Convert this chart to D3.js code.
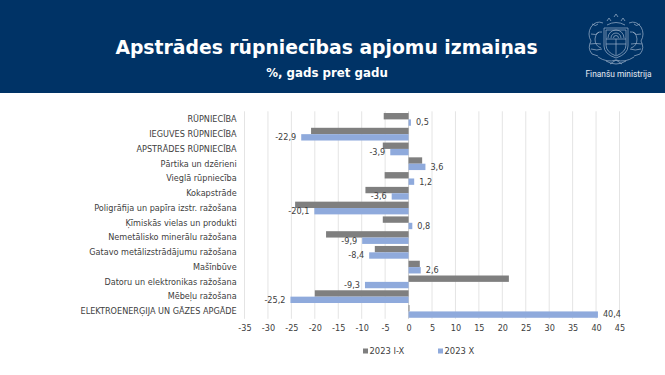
<!DOCTYPE html>
<html lang="lv">
<head>
<meta charset="utf-8">
<title>Apstrādes rūpniecības apjomu izmaiņas</title>
<script src="https://cdn.jsdelivr.net/npm/d3@7.9.0/dist/d3.min.js"></script>
<style>
  html, body { margin: 0; padding: 0; background: #fff; }
  svg { display: block; font-family: "DejaVu Sans", sans-serif; }
</style>
</head>
<body>
<svg id="chart" width="665" height="375"></svg>
<script>
const categories = [
  "RŪPNIECĪBA",
  "IEGUVES RŪPNIECĪBA",
  "APSTRĀDES RŪPNIECĪBA",
  "Pārtika un dzērieni",
  "Vieglā rūpniecība",
  "Kokapstrāde",
  "Poligrāfija un papīra izstr. ražošana",
  "Ķīmiskās vielas un produkti",
  "Nemetālisko minerālu ražošana",
  "Gatavo metālizstrādājumu ražošana",
  "Mašīnbūve ",
  "Datoru un elektronikas ražošana",
  "Mēbeļu ražošana",
  "ELEKTROENERĢIJA UN GĀZES APGĀDE",
];
const valuesYtd = [-5.3, -20.8, -5.5, 2.9, -5.1, -9.2, -24.2, -5.5, -17.6, -7.2, 2.4, 21.4, -20, 0.2];
const valuesOct = [0.5, -22.9, -3.9, 3.6, 1.2, -3.6, -20.1, 0.8, -9.9, -8.4, 2.6, -9.3, -25.2, 40.4];
const xTicks = [-35, -30, -25, -20, -15, -10, -5, 0, 5, 10, 15, 20, 25, 30, 35, 40, 45];
const seriesNames = ["2023 I-X", "2023 X"];

const grey = "#7f7f7f";
const blue = "#8faadc";
const navy = "#003366";
const textColor = "#404040";

const svg = d3.select("#chart");

// header band
svg.append("rect").attr("width", 665).attr("height", 93).attr("fill", navy);
svg.append("text").attr("x", 326.5).attr("y", 54).attr("text-anchor", "middle")
  .attr("fill", "#fff").attr("font-size", 18.8).attr("font-weight", "bold")
  .text("Apstrādes rūpniecības apjomu izmaiņas");
svg.append("text").attr("x", 327).attr("y", 77).attr("text-anchor", "middle")
  .attr("fill", "#fff").attr("font-size", 11.8).attr("font-weight", "bold")
  .text("%, gads pret gadu");

// rough line version of the coat of arms
const logo = svg.append("g").attr("transform", "translate(616,40)")
  .attr("fill", "none").attr("stroke", "#9fb3cc").attr("stroke-width", 0.7);
logo.append("path").attr("d", "M-12,-12 H12 V6 Q12,14 0,18 Q-12,14 -12,6 Z M-10,-10 H10 V5 Q10,12 0,16 Q-10,12 -10,5 Z");
logo.append("path").attr("d", "M-8,-2 A8,8 0 0 1 8,-2 M-5,-2 A5,5 0 0 1 5,-2 M-2.5,-2 A2.5,2.5 0 0 1 2.5,-2 M-10,-1 H10 M-10,4 H10 M0,-1 V15");
// lion on the left, griffin on the right
logo.append("path").attr("d", "M-13,-17 Q-20,-20 -25,-13 Q-29,-6 -25,1 Q-29,8 -24,14 L-18,16 M-14,-8 Q-20,-9 -21,-1 Q-21,6 -15,8 M-24,-16 Q-20,-13 -18,-16 M-25,-6 Q-20,-4 -17,-8 M-26,4 Q-20,3 -15,4 M-25,9 Q-19,11 -14,9");
logo.append("path").attr("d", "M13,-17 Q20,-20 25,-13 Q29,-6 25,1 Q29,8 24,14 L18,16 M14,-8 Q20,-9 21,-1 Q21,6 15,8 M24,-16 Q20,-13 18,-16 M25,-6 Q20,-4 17,-8 M26,4 Q20,3 15,4 M25,9 Q19,11 14,9");
// three stars over the shield
logo.append("path").attr("d", "M-9,-15 Q0,-20 9,-15 M-9,-19 l2,-3 l2,3 M-2,-23 l2,-3 l2,3 M5,-19 l2,-3 l2,3");
// oak branches below
logo.append("path").attr("d", "M-18,17 Q-9,23 0,20 Q9,23 18,17 M-10,21 Q0,27 10,21 M-6,24 L0,20 L6,24");
svg.append("text").attr("x", 618.5).attr("y", 77).attr("text-anchor", "middle")
  .attr("fill", "#e6ecf3").attr("font-size", 8.4).attr("font-family", "Roboto, sans-serif")
  .text("Finanšu ministrija");

// chart
const x = d3.scaleLinear().domain([-35, 45]).range([244.5, 619.5]);
const y = d3.scaleBand().domain(categories).range([112, 318.8]);
const series = d3.scaleBand().domain(seriesNames).range([0, y.bandwidth()]).paddingInner(0).paddingOuter(0.16);

svg.append("g").selectAll("line").data(xTicks).join("line")
  .attr("x1", (d) => x(d)).attr("x2", (d) => x(d))
  .attr("y1", 111.3).attr("y2", 318.8)
  .attr("stroke", (d) => (d === 0 ? "#cfcfcf" : "#e4e4e4")).attr("stroke-width", 1);

const xAxis = d3.axisBottom(x).tickValues(xTicks).tickSize(0).tickPadding(0).tickFormat((d) => String(d));
const xg = svg.append("g").attr("transform", "translate(0,319)").call(xAxis);
xg.select(".domain").remove();
xg.selectAll("text").attr("dy", "1em").attr("y", 4).attr("fill", textColor).attr("font-size", 8.15)
  .attr("font-family", '"DejaVu Sans", sans-serif');

svg.append("g").selectAll("text").data(categories).join("text")
  .attr("x", 236.7).attr("y", (d) => y(d) + y.bandwidth() / 2)
  .attr("dy", "0.35em").attr("text-anchor", "end").attr("fill", textColor).attr("font-size", 8.15)
  .text((d) => d);

function drawBars(values, name, color) {
  svg.append("g").selectAll("rect").data(values).join("rect")
    .attr("x", (d) => Math.min(x(0), x(d)))
    .attr("width", (d) => Math.abs(x(d) - x(0)))
    .attr("y", (d, i) => y(categories[i]) + series(name))
    .attr("height", series.bandwidth())
    .attr("fill", color);
}
drawBars(valuesYtd, seriesNames[0], grey);
drawBars(valuesOct, seriesNames[1], blue);

// value labels only for the latest month
const fmt = (d) => d.toFixed(1).replace(".", ",");
svg.append("g").selectAll("text").data(valuesOct).join("text")
  .attr("x", (d) => x(d) + (d < 0 ? -5 : 5))
  .attr("y", (d, i) => y(categories[i]) + series(seriesNames[1]) + series.bandwidth() / 2)
  .attr("dy", "0.35em")
  .attr("text-anchor", (d) => (d < 0 ? "end" : "start"))
  .attr("fill", textColor).attr("font-size", 8.15)
  .text(fmt);

// legend
const legendX = [363, 438];
const legend = svg.append("g").selectAll("g").data(seriesNames).join("g")
  .attr("transform", (d, i) => `translate(${legendX[i]},351)`);
legend.append("rect").attr("y", -2.5).attr("width", 5).attr("height", 5)
  .attr("fill", (d, i) => (i === 0 ? grey : blue));
legend.append("text").attr("x", 6.5).attr("dy", "0.35em").attr("fill", textColor).attr("font-size", 8.4)
  .text((d) => d);
</script>
</body>
</html>
